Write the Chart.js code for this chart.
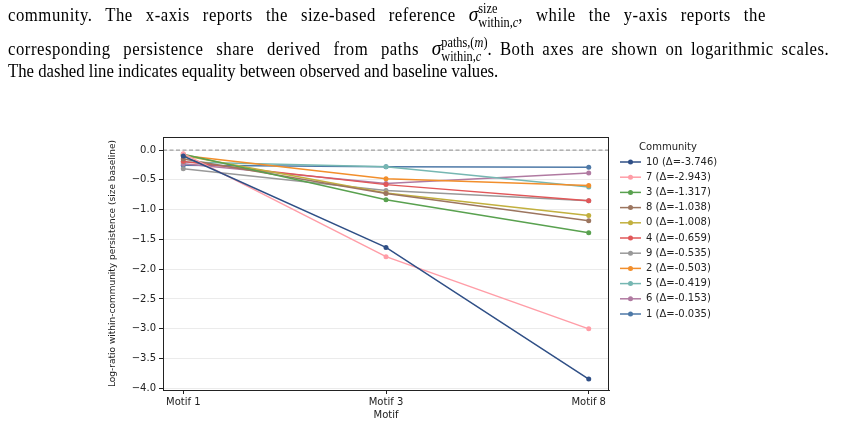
<!DOCTYPE html>
<html>
<head>
<meta charset="utf-8">
<script src="https://cdn.jsdelivr.net/npm/chart.js@4.4.1/dist/chart.umd.min.js"></script>
<style>
  html, body { margin: 0; padding: 0; background: #fff; }
  #wrap { position: relative; width: 843px; height: 426px; overflow: hidden; }
  #c { position: absolute; left: 0; top: 0; }
  .ln { position: absolute; left: 8px; white-space: nowrap; font-family: "Liberation Serif", "Times New Roman", serif; font-size: 19px; color: #000; z-index: 2; transform: scaleX(0.88); transform-origin: 0 0; }
  .ss { display: inline-block; vertical-align: -6px; line-height: 14px; font-size: 14px; word-spacing: 0; letter-spacing: 0; }
  .ss span { display: block; }
  .sig { font-style: italic; font-size: 22px; letter-spacing: 0; }
  .a { letter-spacing: 0.6px; }
</style>
</head>
<body>
<div id="wrap">
  <div class="ln" style="top:1px"><span class="a" style="word-spacing:9.4px">community. The x-axis reports the size-based reference </span><span class="sig">σ</span><span class="ss"><span>size</span><span>within,<i>c</i></span></span><span class="a" style="word-spacing:9.4px">, while the y-axis reports the</span></div>
  <div class="ln" style="top:35px"><span class="a" style="word-spacing:9.2px">corresponding persistence share derived from paths </span><span class="sig">σ</span><span class="ss"><span>paths,(<i>m</i>)</span><span>within,<i>c</i></span></span><span class="a" style="word-spacing:3.4px">. Both axes are shown on logarithmic scales.</span></div>
  <div class="ln" style="top:60px">The dashed line indicates equality between observed and baseline values.</div>
  <canvas id="c" width="843" height="426"></canvas>
</div>
<script>
// valeurs
const motifs = ['Motif 1', 'Motif 3', 'Motif 8'];
const communities = ['10', '7', '3', '8', '0', '4', '9', '2', '5', '6', '1'];
const deltas = [-3.746, -2.943, -1.317, -1.038, -1.008, -0.659, -0.535, -0.503, -0.419, -0.153, -0.035];
const motif1 = [-0.10, -0.06, -0.07, -0.15, -0.09, -0.19, -0.315, -0.09, -0.20, -0.23, -0.255];
const motif3 = [-1.635, -1.79, -0.835, -0.73, -0.72, -0.58, -0.68, -0.48, -0.28, -0.56, -0.28];
const motif8 = [-3.846, -3.003, -1.387, -1.188, -1.098, -0.849, -0.85, -0.593, -0.619, -0.383, -0.29];
const colors = ['#2f4f86', '#ff9da7', '#59a14f', '#9c755f', '#c2b03e', '#e15759', '#999999', '#f28e2b', '#76b7b2', '#b07aa1', '#4e79a7'];
const yTicks = [0, -0.5, -1.0, -1.5, -2.0, -2.5, -3.0, -3.5, -4.0];

const datasets = communities.map((c, i) => ({
  label: c + ' (\u0394=' + deltas[i].toFixed(3) + ')',
  data: [motif1[i], motif3[i], motif8[i]].map((v, k) => ({ x: k, y: v })),
  borderColor: colors[i],
  backgroundColor: colors[i],
  borderWidth: 1.5,
  pointRadius: 2.5,
  pointBorderWidth: 0,
  tension: 0
}));

// cadre, ligne pointillée et légende
const extras = {
  id: 'extras',
  beforeDatasetsDraw(chart) {
    const { ctx, chartArea: a, scales } = chart;
    const y0 = scales.y.getPixelForValue(0);
    ctx.save();
    ctx.strokeStyle = '#808080';
    ctx.lineWidth = 0.9;
    ctx.setLineDash([4, 2.5]);
    ctx.beginPath();
    ctx.moveTo(a.left, y0);
    ctx.lineTo(a.right, y0);
    ctx.stroke();
    ctx.restore();
  },
  afterDraw(chart) {
    const { ctx, chartArea: a } = chart;
    ctx.save();
    ctx.strokeStyle = '#222';
    ctx.lineWidth = 1;
    ctx.strokeRect(a.left + 0.5, a.top + 0.5, a.right - a.left - 1, a.bottom - a.top);
    ctx.font = '10px "DejaVu Sans"';
    ctx.fillStyle = '#222';
    ctx.textAlign = 'center';
    ctx.textBaseline = 'middle';
    ctx.fillText('Community', 668, 147);
    ctx.textAlign = 'left';
    chart.data.datasets.forEach((ds, i) => {
      const y = 162 + i * 15.2;
      ctx.strokeStyle = ds.borderColor;
      ctx.lineWidth = 1.5;
      ctx.beginPath();
      ctx.moveTo(620, y);
      ctx.lineTo(641, y);
      ctx.stroke();
      ctx.fillStyle = ds.borderColor;
      ctx.beginPath();
      ctx.arc(630.5, y, 2.5, 0, Math.PI * 2);
      ctx.fill();
      ctx.fillStyle = '#222';
      ctx.fillText(ds.label, 646, y);
    });
    ctx.restore();
  }
};

const tickFont = { family: 'DejaVu Sans', size: 10 };

new Chart(document.getElementById('c'), {
  type: 'line',
  data: { datasets },
  options: {
    responsive: false,
    animation: false,
    layout: { padding: { left: 100, top: 137, right: 234, bottom: 0 } },
    plugins: { legend: { display: false }, tooltip: { enabled: false } },
    scales: {
      x: {
        type: 'linear',
        min: -0.1,
        max: 2.1,
        afterBuildTicks: s => { s.ticks = motifs.map((m, k) => ({ value: k })); },
        afterFit: s => { s.height = 36; },
        ticks: { font: tickFont, color: '#222', padding: 2, maxRotation: 0, callback: v => motifs[v] },
        grid: { drawOnChartArea: false, tickLength: 4, tickColor: '#222' },
        border: { color: '#222' },
        title: { display: true, text: 'Motif', font: { family: 'DejaVu Sans', size: 10 }, color: '#222', padding: { top: 0, bottom: 5 } }
      },
      y: {
        min: -4.03,
        max: 0.22,
        afterBuildTicks: s => { s.ticks = yTicks.map(v => ({ value: v })); },
        afterFit: s => { s.width = 63; },
        ticks: { font: tickFont, color: '#222', padding: 3, callback: v => (v < 0 ? '\u2212' : '') + Math.abs(v).toFixed(1) },
        grid: { color: '#ebebeb', tickLength: 4, tickColor: '#222' },
        border: { color: '#222' },
        title: { display: true, text: 'Log-ratio within-community persistence (size baseline)', font: { family: 'DejaVu Sans', size: 9 }, color: '#222', padding: { top: 7, bottom: 0 } }
      }
    }
  },
  plugins: [extras]
});
</script>
</body>
</html>
